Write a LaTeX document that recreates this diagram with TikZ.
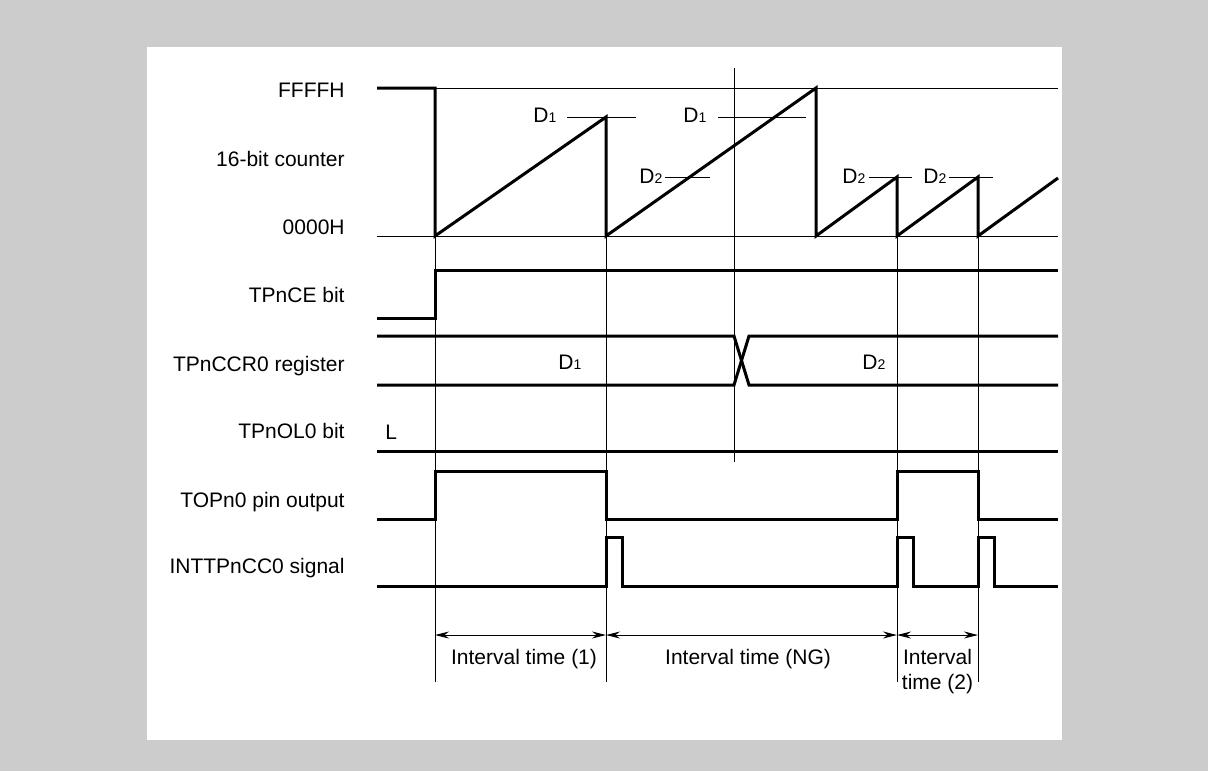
\documentclass[tikz,border=0pt]{standalone}
\usepackage{fontspec}
\setmainfont{Liberation Sans}
\usetikzlibrary{arrows.meta}
\definecolor{bggray}{RGB}{204,204,204}
\newcommand\dsub[1]{{\fontsize{7}{8}\selectfont#1}}

\begin{document}
\begin{tikzpicture}[x=0.5pt,y=-0.5pt,every node/.style={font=\fontsize{10.5}{12.5}\selectfont,inner sep=0pt},
    wave/.style={line width=1.5pt},
    grid/.style={line width=0.5pt},
    signame/.style={anchor=base east},
    val/.style={anchor=base west},
    interval/.style={line width=0.5pt,{Stealth[length=7pt,width=3.5pt]}-{Stealth[length=7pt,width=3.5pt]}}]
      \fill[bggray] (0,0) rectangle (1208,771);
      \fill[white] (147,47) rectangle (1062,740);
      \node[signame] (ffff) at (345,97) {FFFFH};
      \node[signame] (cnt) at (345,166) {16-bit counter};
      \node[signame] (zero) at (345,234) {0000H};
      \node[signame] (ce) at (345,302) {TPnCE bit};
      \node[signame] (ccr) at (345,371) {TPnCCR0 register};
      \node[signame] (ol) at (345,438) {TPnOL0 bit};
      \node[signame] (top) at (345,507) {TOPn0 pin output};
      \node[signame] (int) at (345,573) {INTTPnCC0 signal};
      \coordinate (m1) at (435,635);
      \coordinate (m2) at (606,635);
      \coordinate (m3) at (897,635);
      \coordinate (m4) at (978,635);
      \draw[grid] (435,88) -- (1058,88);
      \draw[grid] (377,236) -- (1058,236);
      \draw[grid] (734,68) -- (734,462);
      \foreach \t in {435,606,897,978}
        \draw[grid] (\t,236) -- (\t,682);
      \draw[wave] (377,88) -- (435,88) -- (435,236) -- (606,117) -- (606,236) -- (816,88) -- (816,236) -- (897,177) -- (897,236) -- (978,177) -- (978,236) -- (1058,178);
      \node[val] (d1a) at (533,122) {D\dsub{1}};
      \node[val] (d1b) at (683,122) {D\dsub{1}};
      \node[val] (d2a) at (639,183) {D\dsub{2}};
      \node[val] (d2b) at (842,183) {D\dsub{2}};
      \node[val] (d2c) at (923,183) {D\dsub{2}};
      \draw[grid] (567,117) -- (636,117);
      \draw[grid] (718,117) -- (806,117);
      \draw[grid] (665,177) -- (710,177);
      \draw[grid] (869,177) -- (912,177);
      \draw[grid] (949,177) -- (993,177);
      \draw[wave] (377,318) -- (435,318) -- (435,270) -- (1058,270);
      \draw[wave] (377,336) -- (734,336) -- (749,385) -- (1058,385);
      \draw[wave] (377,385) -- (734,385) -- (749,336) -- (1058,336);
      \node[val] (ccrd1) at (558,369) {D\dsub{1}};
      \node[val] (ccrd2) at (862,369) {D\dsub{2}};
      \draw[wave] (377,451) -- (1058,451);
      \node[val] (lvl) at (385,439) {L};
      \draw[wave] (377,519) -- (435,519) -- (435,471) -- (606,471) -- (606,519) -- (897,519) -- (897,471) -- (978,471) -- (978,519) -- (1058,519);
      \draw[wave] (377,586) -- (606,586) -- (606,537) -- (622,537) -- (622,586) -- (897,586) -- (897,537) -- (913,537) -- (913,586) -- (978,586) -- (978,537) -- (994,537) -- (994,586) -- (1058,586);
      \draw[interval] (m1) -- (m2);
      \draw[interval] (m2) -- (m3);
      \draw[interval] (m3) -- (m4);
      \node[anchor=base] (iv1) at (524,664) {Interval time (1)};
      \node[anchor=base] (ivng) at (748,664) {Interval time (NG)};
      \node[anchor=north,align=center] (iv2) at (937.5,649) {Interval\\time (2)};
    \end{tikzpicture}
\end{document}
